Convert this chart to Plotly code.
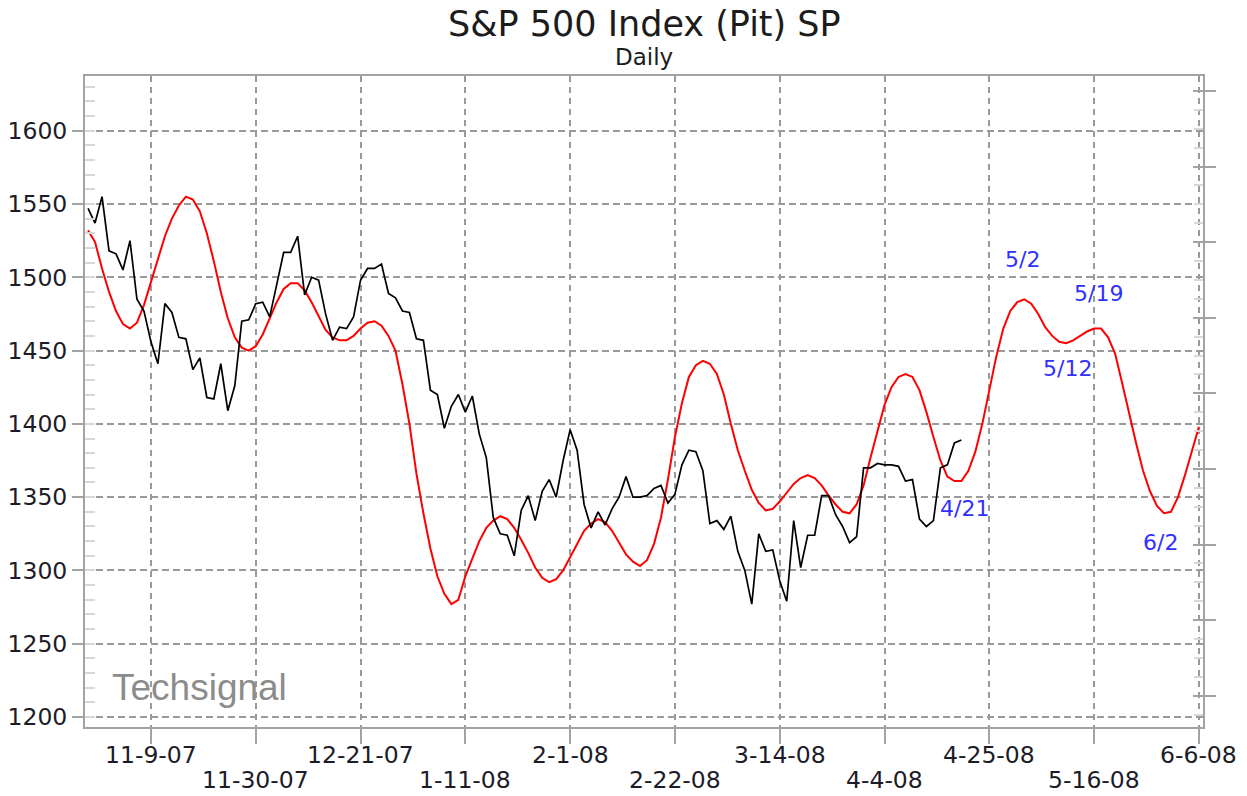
import pandas as pd
import plotly.graph_objects as go

# ---------------- data ----------------
start_date = "2007-10-29"          # first weekday shown (weekday slots, holidays included)

# S&P 500 pit futures, daily close (weekday slots from 10-29-07 to 4-21-08)
sp_close = [
    1547, 1537, 1555, 1518, 1516, 1505, 1525, 1485, 1477, 1456,
    1441, 1482, 1476, 1459, 1458, 1437, 1445, 1418, 1417, 1441,
    1409, 1426, 1470, 1471, 1482, 1483, 1473, 1496, 1517, 1517,
    1528, 1488, 1500, 1498, 1475, 1457, 1466, 1465, 1473, 1498,
    1506, 1506, 1509, 1489, 1486, 1477, 1476, 1458, 1457, 1423,
    1420, 1397, 1412, 1420, 1408, 1419, 1393, 1377, 1336, 1325,
    1324, 1310, 1341, 1351, 1334, 1354, 1362, 1350, 1375, 1396,
    1382, 1345, 1329, 1340, 1331, 1342, 1350, 1364, 1350, 1350,
    1351, 1356, 1358, 1346, 1352, 1372, 1382, 1381, 1368, 1332,
    1334, 1328, 1337, 1313, 1300, 1277, 1325, 1313, 1314, 1293,
    1279, 1334, 1302, 1324, 1324, 1351, 1351, 1338, 1330, 1319,
    1323, 1370, 1370, 1373, 1372, 1372, 1371, 1361, 1362, 1335,
    1330, 1334, 1370, 1372, 1387, 1389,
]

# Techsignal cycle projection (weekday slots from 10-29-07 to 6-6-08)
cycle_forecast = [
    1532, 1524, 1506, 1490, 1477, 1468, 1465, 1469, 1481, 1497,
    1513, 1528, 1540, 1549, 1555, 1553, 1545, 1530, 1511, 1490,
    1472, 1459, 1452, 1450, 1453, 1461, 1472, 1483, 1492, 1496,
    1496, 1491, 1483, 1473, 1464, 1459, 1457, 1457, 1460, 1465,
    1469, 1470, 1467, 1460, 1450, 1427, 1400, 1366, 1339, 1315,
    1296, 1284, 1277, 1280, 1296, 1308, 1320, 1329, 1334, 1337,
    1335, 1329, 1321, 1312, 1302, 1295, 1292, 1294, 1300, 1309,
    1318, 1327, 1332, 1335, 1333, 1327, 1319, 1311, 1306, 1303,
    1307, 1318, 1336, 1362, 1391, 1414, 1432, 1440, 1443, 1441,
    1434, 1420, 1400, 1382, 1368, 1355, 1346, 1341, 1342, 1347,
    1353, 1359, 1363, 1365, 1363, 1358, 1351, 1345, 1340, 1339,
    1345, 1358, 1377, 1396, 1413, 1425, 1432, 1434, 1432, 1423,
    1408, 1391, 1375, 1364, 1361, 1361, 1368, 1381, 1400, 1423,
    1446, 1465, 1477, 1483, 1485, 1482, 1475, 1466, 1460, 1456,
    1455, 1457, 1460, 1463, 1465, 1465, 1459, 1448, 1428, 1407,
    1387, 1368, 1354, 1344, 1339, 1340, 1350, 1365, 1382, 1398,
]

tick_dates = ["2007-11-09", "2007-11-30", "2007-12-21", "2008-01-11", "2008-02-01",
              "2008-02-22", "2008-03-14", "2008-04-04", "2008-04-25", "2008-05-16",
              "2008-06-06"]
tick_labels = ["11-9-07", "11-30-07", "12-21-07", "1-11-08", "2-1-08",
               "2-22-08", "3-14-08", "4-4-08", "4-25-08", "5-16-08", "6-6-08"]

turn_labels = ["4/21", "5/2", "5/12", "5/19", "6/2"]
turn_dates = ["2008-04-21", "2008-05-02", "2008-05-12", "2008-05-19", "2008-06-02"]
turn_label_y = [1342, 1512, 1438, 1489, 1319]
turn_label_dx = [3, -2, 1, -3, -10]

y_ticks = [1200, 1250, 1300, 1350, 1400, 1450, 1500, 1550, 1600]

# ---------------- figure ----------------
dates = pd.bdate_range(start_date, periods=len(cycle_forecast))

FONT = "DejaVu Sans, Verdana, sans-serif"
GRID = "#9a9a9a"
FRAME = "#a3a3a3"

fig = go.Figure()
fig.add_trace(go.Scatter(x=dates, y=cycle_forecast, mode="lines",
                         line=dict(color="#ff0000", width=2), hoverinfo="skip",
                         showlegend=False))
fig.add_trace(go.Scatter(x=dates[:len(sp_close)], y=sp_close, mode="lines",
                         line=dict(color="#000000", width=1.7), hoverinfo="skip",
                         showlegend=False))
# dummy traces so the right-hand scale axes are drawn
fig.add_trace(go.Scatter(x=[dates[0]], y=[None], yaxis="y2", showlegend=False, hoverinfo="skip"))
fig.add_trace(go.Scatter(x=[dates[0]], y=[None], yaxis="y3", showlegend=False, hoverinfo="skip"))

for lab, d, yv, dx in zip(turn_labels, turn_dates, turn_label_y, turn_label_dx):
    fig.add_annotation(x=d, y=yv, xref="x", yref="y", text=lab, showarrow=False,
                       xshift=dx, font=dict(family=FONT, size=22, color="#3030ff"))

for i, (d, lab) in enumerate(zip(tick_dates, tick_labels)):
    fig.add_annotation(x=d, xref="x", yref="paper", y=-0.043 if i % 2 == 0 else -0.081,
                       yanchor="middle", text=lab, showarrow=False,
                       font=dict(family=FONT, size=23.5, color="#1c1c28"))

fig.add_annotation(x=0.5, y=1.0805, xref="paper", yref="paper", yanchor="middle",
                   text="S&P 500 Index (Pit) SP", showarrow=False,
                   font=dict(family=FONT, size=35, color="#1c1c1c"))
fig.add_annotation(x=0.5, y=1.029, xref="paper", yref="paper", yanchor="middle",
                   text="Daily", showarrow=False,
                   font=dict(family=FONT, size=23, color="#1c1c1c"))
fig.add_annotation(x=0.022, y=0.060, xref="paper", yref="paper", xanchor="left",
                   yanchor="middle", text="Techsignal", showarrow=False,
                   font=dict(family="Liberation Sans, Arial, sans-serif", size=37,
                             color="#8c8c8c"))

fig.update_layout(
    width=1247, height=796,
    margin=dict(l=85, r=44, t=76, b=69),
    paper_bgcolor="white", plot_bgcolor="white",
    showlegend=False,
    xaxis=dict(
        type="date", automargin=False,
        rangebreaks=[dict(bounds=["sat", "mon"])],
        range=["2007-10-26 13:30", "2008-06-06 14:00"],
        tickmode="array", tickvals=tick_dates, showticklabels=False,
        ticks="outside", ticklen=15, tickwidth=2, tickcolor=FRAME,
        showgrid=True, gridcolor=GRID, gridwidth=2, griddash="6px,5px",
        showline=True, linecolor=FRAME, linewidth=2, mirror=True,
        zeroline=False, fixedrange=True,
    ),
    yaxis=dict(
        range=[1193.2, 1637.3], automargin=False,
        tickmode="array", tickvals=y_ticks,
        ticks="outside", ticklen=11, tickwidth=2, tickcolor=FRAME,
        tickfont=dict(family=FONT, size=23.5, color="#1c1c28"),
        showgrid=True, gridcolor=GRID, gridwidth=2, griddash="7px,4px",
        showline=True, linecolor=FRAME, linewidth=2, mirror=True,
        zeroline=False,
        minor=dict(tickmode="linear", tick0=1200, dtick=10, ticks="inside",
                   ticklen=10, tickwidth=2, tickcolor="#d8d8d8", showgrid=False),
    ),
    yaxis2=dict(
        overlaying="y", side="right", range=[-4.413, 4.198], automargin=False,
        tickmode="linear", tick0=-4, dtick=1, showticklabels=False,
        ticks="outside", ticklen=12, tickwidth=2, tickcolor=FRAME,
        showgrid=False, zeroline=False, showline=False,
    ),
    yaxis3=dict(
        overlaying="y", side="right", range=[-4.413, 4.198], automargin=False,
        tickmode="linear", tick0=-4, dtick=1, showticklabels=False,
        ticks="inside", ticklen=10, tickwidth=2, tickcolor=FRAME,
        showgrid=False, zeroline=False, showline=False,
        minor=dict(tickmode="linear", tick0=-4, dtick=0.25, ticks="inside",
                   ticklen=9, tickwidth=2, tickcolor="#d8d8d8", showgrid=False),
    ),
)

# the browser's default 8px body margin would shift the figure; remove it
fig.write_html("out.html",
               config={"displayModeBar": False, "staticPlot": True},
               post_script="document.body.style.margin='0';document.body.style.overflow='hidden';")
